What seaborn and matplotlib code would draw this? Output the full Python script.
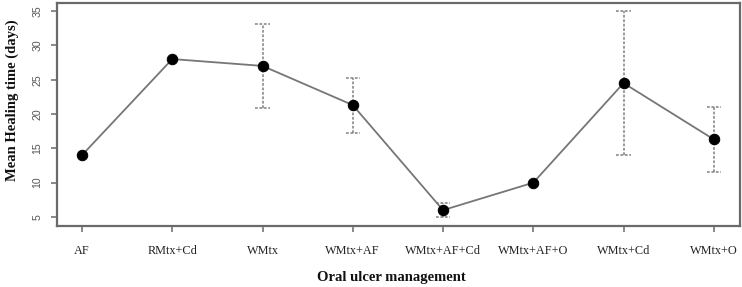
import numpy as np
import pandas as pd
import matplotlib
matplotlib.use("Agg")
import matplotlib.pyplot as plt
import seaborn as sns

categories = ["AF", "RMtx+Cd", "WMtx", "WMtx+AF", "WMtx+AF+Cd", "WMtx+AF+O", "WMtx+Cd", "WMtx+O"]
means = [14.0, 28.0, 27.0, 21.3, 6.0, 10.0, 24.5, 16.3]
err_low = [np.nan, np.nan, 20.9, 17.3, 5.0, np.nan, 14.0, 11.6]
err_high = [np.nan, np.nan, 33.1, 25.3, 7.0, np.nan, 35.0, 21.0]
yticks = [5, 10, 15, 20, 25, 30, 35]

sns.set_theme(style="white")
plt.rcParams["font.family"] = ["Liberation Serif", "DejaVu Serif"]

df = pd.DataFrame({"group": categories, "mean": means, "lo": err_low, "hi": err_high})
df["pos"] = np.arange(len(categories))

fig = plt.figure(figsize=(7.42, 2.87), dpi=100)
ax = fig.add_axes([0.0768, 0.2125, 0.9205, 0.777])

sns.lineplot(data=df, x="pos", y="mean", ax=ax, color="#767676", linewidth=1.3,
             marker="o", markersize=7.5, markerfacecolor="black",
             markeredgecolor="black", zorder=3)

eb = df.dropna()
ecol = "#808080"
ls = (0, (1.8, 1.1))
ax.vlines(eb["pos"], eb["lo"], eb["hi"], colors=ecol, linestyles=ls, linewidth=1.1, zorder=2)
cap = 0.08
ax.hlines(eb["lo"], eb["pos"] - cap, eb["pos"] + cap, colors=ecol, linestyles=ls, linewidth=1.1, zorder=2)
ax.hlines(eb["hi"], eb["pos"] - cap, eb["pos"] + cap, colors=ecol, linestyles=ls, linewidth=1.1, zorder=2)

ax.set_xlim(-0.277, 7.29)
ax.set_ylim(3.69, 36.16)
ax.set_xticks(df["pos"])
ax.set_xticklabels(categories, fontsize=8.8, color="#222222")
ax.set_yticks(yticks)
ax.set_yticklabels([str(v) for v in yticks], fontsize=7.6, color="#555555",
                   rotation=90, va="center", family="Liberation Sans")

for s in ax.spines.values():
    s.set_color("#6a6a6a")
    s.set_linewidth(1.6)
    s.set_visible(True)

ax.tick_params(axis="both", which="both", direction="out", length=4.5, width=1.1,
               color="#6a6a6a", left=True, bottom=True)
ax.tick_params(axis="x", pad=9)
ax.tick_params(axis="y", pad=6)

ax.set_xlabel("Oral ulcer management", fontsize=10.5, fontweight="bold", color="#111111")
ax.set_ylabel("Mean Healing time (days)", fontsize=10.5, fontweight="bold", color="#111111")
ax.xaxis.set_label_coords((391 - 57) / 683, -(277 - 226) / 223)
ax.xaxis.label.set_va("center")
ax.yaxis.set_label_coords(-(57 - 12) / 683, (226 - 100) / 223)
ax.yaxis.label.set_va("center")

fig.savefig("out.png", dpi=100)
